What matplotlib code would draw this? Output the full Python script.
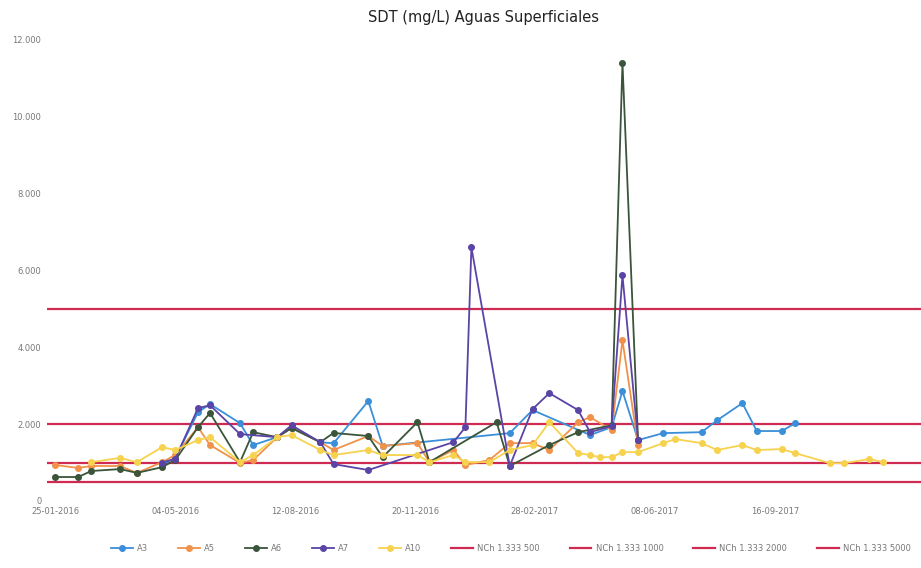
import matplotlib
matplotlib.use("Agg")
import matplotlib.pyplot as plt
import numpy as np
import pandas as pd

title = "SDT (mg/L) Aguas Superficiales"

a3_dates = ["2016-04-23", "2016-05-04", "2016-05-23", "2016-06-02", "2016-06-27", "2016-07-08",
            "2016-07-28", "2016-08-09", "2016-09-02", "2016-09-13", "2016-10-12", "2016-10-24",
            "2017-02-07", "2017-02-26", "2017-04-15", "2017-05-03", "2017-05-12", "2017-05-25",
            "2017-06-15", "2017-07-17", "2017-07-30", "2017-08-20", "2017-09-01", "2017-09-22",
            "2017-10-03"]
a3_values = [935, 1120, 2310, 2520, 2025, 1455, 1660, 1900, 1530, 1500, 2600, 1430,
             1765, 2365, 1715, 1920, 2860, 1585, 1765, 1790, 2100, 2545, 1820, 1820, 2025]

a5_dates = ["2016-01-25", "2016-02-13", "2016-02-24", "2016-03-19", "2016-04-02", "2016-04-23",
            "2016-05-04", "2016-05-23", "2016-06-02", "2016-06-27", "2016-07-08", "2016-07-28",
            "2016-08-09", "2016-09-02", "2016-09-13", "2016-10-12", "2016-10-24", "2016-11-22",
            "2016-12-02", "2016-12-22", "2017-01-01", "2017-01-21", "2017-02-07", "2017-02-26",
            "2017-03-12", "2017-04-05", "2017-04-15", "2017-05-03", "2017-05-12", "2017-05-25"]
a5_values = [935, 860, 910, 910, 730, 1010, 1195, 1920, 1455, 990, 1065, 1660,
             1900, 1530, 1325, 1690, 1430, 1505, 1010, 1325, 935, 1065, 1505, 1505,
             1325, 2050, 2180, 1845, 4180, 1455]

a6_dates = ["2016-01-25", "2016-02-13", "2016-02-24", "2016-03-19", "2016-04-02", "2016-04-23",
            "2016-05-04", "2016-05-23", "2016-06-02", "2016-06-27", "2016-07-08", "2016-07-28",
            "2016-08-09", "2016-09-02", "2016-09-13", "2016-10-12", "2016-10-24", "2016-11-22",
            "2016-12-02", "2017-01-27", "2017-02-07", "2017-03-12", "2017-04-05", "2017-05-03",
            "2017-05-12", "2017-05-25"]
a6_values = [623, 623, 780, 830, 730, 880, 1065, 1920, 2290, 1010, 1790, 1660,
             1900, 1530, 1770, 1690, 1140, 2050, 1010, 2050, 910, 1455, 1790, 1970,
             11400, 1585]

a7_dates = ["2016-04-23", "2016-05-04", "2016-05-23", "2016-06-02", "2016-06-27", "2016-07-28",
            "2016-08-09", "2016-09-02", "2016-09-13", "2016-10-12", "2016-12-22", "2017-01-01",
            "2017-01-06", "2017-02-07", "2017-02-26", "2017-03-12", "2017-04-05", "2017-04-15",
            "2017-05-03", "2017-05-12", "2017-05-25"]
a7_values = [1000, 1100, 2415, 2490, 1740, 1660, 1970, 1530, 960, 805, 1530, 1920,
             6600, 910, 2390, 2805, 2365, 1790, 1950, 5870, 1585]

a10_dates = ["2016-02-24", "2016-03-19", "2016-04-02", "2016-04-23", "2016-05-04", "2016-05-23",
             "2016-06-02", "2016-06-27", "2016-07-08", "2016-07-28", "2016-08-09", "2016-09-02",
             "2016-09-13", "2016-10-12", "2016-10-24", "2016-11-22", "2016-12-02", "2016-12-22",
             "2017-01-01", "2017-01-21", "2017-02-07", "2017-02-26", "2017-03-12", "2017-04-05",
             "2017-04-15", "2017-04-23", "2017-05-03", "2017-05-12", "2017-05-25", "2017-06-15",
             "2017-06-25", "2017-07-17", "2017-07-30", "2017-08-20", "2017-09-01", "2017-09-22",
             "2017-10-03", "2017-11-01", "2017-11-13", "2017-12-04", "2017-12-15"]
a10_values = [1010, 1120, 1010, 1400, 1325, 1585, 1660, 1010, 1195, 1660, 1715, 1325,
              1195, 1325, 1195, 1195, 1010, 1195, 1010, 1010, 1325, 1455, 2050, 1245,
              1195, 1140, 1140, 1270, 1270, 1505, 1610, 1505, 1325, 1455, 1325, 1350,
              1245, 985, 985, 1090, 1010]

limit_labels = ["NCh 1.333 500", "NCh 1.333 1000", "NCh 1.333 2000", "NCh 1.333 5000"]
limit_values = [500, 1000, 2000, 5000]

x_ticks = ["2016-01-25", "2016-05-04", "2016-08-12", "2016-11-20", "2017-02-28", "2017-06-08", "2017-09-16"]
y_ticks = [0, 2000, 4000, 6000, 8000, 10000, 12000]

series = [
    ("A3", a3_dates, a3_values, "#3b8fd8"),
    ("A5", a5_dates, a5_values, "#f0924a"),
    ("A6", a6_dates, a6_values, "#3a553a"),
    ("A7", a7_dates, a7_values, "#5a44a6"),
    ("A10", a10_dates, a10_values, "#f6d24e"),
]

fig = plt.figure(figsize=(9.21, 5.68), dpi=100)
ax = fig.add_axes([0.051, 0.118, 0.949, 0.812])

for name, d, v, c in series:
    ax.plot(pd.to_datetime(d), v, color=c, lw=1.3, marker="o", ms=4,
            markeredgecolor=c, label=name, zorder=3)

for lab, val in zip(limit_labels, limit_values):
    ax.axhline(val, color="#cf2a52", lw=1.6, label=lab, zorder=2)

ax.set_ylim(0, 12000)
ax.set_xlim(pd.Timestamp("2016-01-18"), pd.Timestamp("2018-01-16"))
xt = pd.to_datetime(x_ticks)
ax.set_xticks(xt)
ax.set_xticklabels([t.strftime("%d-%m-%Y") for t in xt])
ax.set_yticks(y_ticks)
ax.set_yticklabels([f"{t:,}".replace(",", ".") for t in y_ticks])
ax.tick_params(axis="both", length=0, labelsize=6, colors="#777777", pad=4)
for s in ax.spines.values():
    s.set_visible(False)

ax.set_title(title, fontsize=10.5, color="#222222", pad=13)

handles, labels = ax.get_legend_handles_labels()
fig.legend(handles, labels, loc="center", bbox_to_anchor=(0.555, 0.035), ncol=9,
           frameon=False, fontsize=6, labelcolor="#777777", handlelength=2.6,
           columnspacing=3.6, handletextpad=0.5)

fig.savefig("out.png", dpi=100, facecolor="white")
